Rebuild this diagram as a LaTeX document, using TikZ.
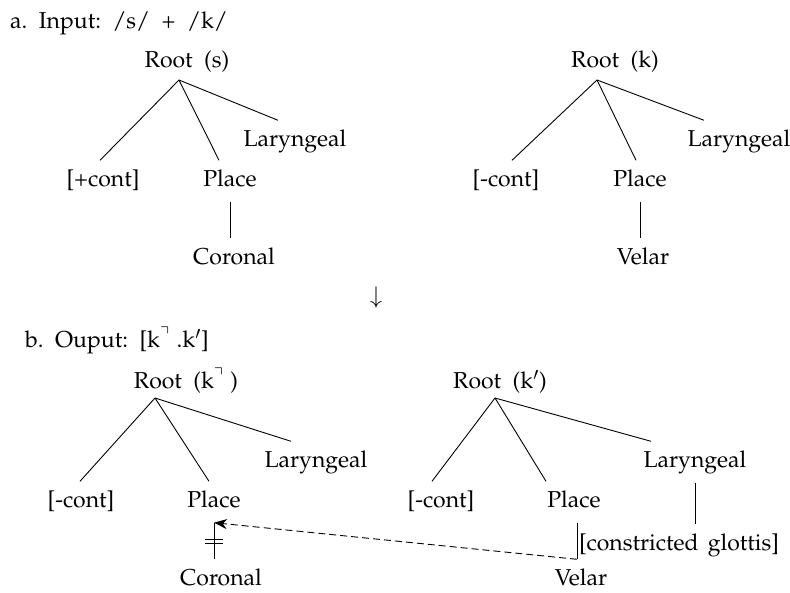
\documentclass[tikz,border=0pt]{standalone}
\usepackage[T1]{fontenc}
\usepackage{mathpazo}
\usepackage{amssymb}
\usetikzlibrary{arrows.meta,calc}
\begin{document}
\begin{tikzpicture}[x=1pt,y=-1pt,
  lbl/.style={inner xsep=0pt, inner ysep=10pt, text height=16pt, text depth=5pt, font=\fontsize{23}{27}\selectfont},
  edge/.style={line width=0.9pt},
  vline/.style={line width=0.8pt},
  dline/.style={line width=0.9pt, dash pattern=on 7pt off 4pt},
]
\useasboundingbox (0,0) rectangle (790,593);
% headers
\node[lbl, anchor=west] (ha) at (10,23) {a.\hspace{.5em}Input:\hspace{.5em}/s/\hspace{.5em}+\hspace{.5em}/k/};
\node[lbl, anchor=west] (hb) at (25,342) {b.\hspace{.5em}Ouput:\hspace{.5em}[k$^{\urcorner}$\hspace{.3em}.k$'$]};
\node[lbl] (darr) at (376,298) {$\downarrow$};

% ---- tree a-left ----
\node[lbl] (ar1) at (187,62) {Root\hspace{.5em}(s)};
\coordinate (aa1) at (179,80);
\node[lbl] (ac1) at (103,181) {[+cont]};
\node[lbl] (ap1) at (230,181) {Place};
\node[lbl] (al1) at (295,141) {Laryngeal};
\node[lbl] (aco) at (234,259) {Coronal};
\draw[edge] (aa1) -- ([xshift=-3pt]ac1.north);
\draw[edge] (aa1) -- ([xshift=-11pt]ap1.north);
\draw[edge] (aa1) -- ([xshift=-17pt]al1.north);
\draw[vline] (ap1.south) -- (ap1.south |- aco.north);

% ---- tree a-right ----
\node[lbl] (ar2) at (615,62) {Root\hspace{.5em}(k)};
\coordinate (aa2) at (597,80);
\node[lbl] (ac2) at (506,181) {[-cont]};
\node[lbl] (ap2) at (640,181) {Place};
\node[lbl] (al2) at (739,141) {Laryngeal};
\node[lbl] (ave) at (643,259) {Velar};
\draw[edge] (aa2) -- ([xshift=6pt]ac2.north);
\draw[edge] (aa2) -- ([xshift=-4pt]ap2.north);
\draw[edge] (aa2) -- ([xshift=-35pt]al2.north);
\draw[vline] (ap2.south) -- (ap2.south |- ave.north);

% ---- tree b-left ----
\node[lbl] (br1) at (186,383) {Root\hspace{.5em}(k$^{\urcorner}$\hspace{.3em})};
\coordinate (ba1) at (155,398);
\node[lbl] (bc1) at (81,502) {[-cont]};
\node[lbl] (bp1) at (214,502) {Place};
\node[lbl] (bl1) at (316,462) {Laryngeal};
\node[lbl] (bco) at (221,580) {Coronal};
\draw[edge] (ba1) -- ([xshift=-1pt]bc1.north);
\draw[edge] (ba1) -- ([xshift=-5pt]bp1.north);
\draw[edge] (ba1) -- ([xshift=-25pt]bl1.north);
\draw[vline] (bp1.south) -- (bp1.south |- bco.north) coordinate[pos=.5] (dl);
\draw[line width=1pt] ([xshift=-9pt,yshift=2pt]dl) -- ([xshift=9pt,yshift=2pt]dl);
\draw[line width=1pt] ([xshift=-9pt,yshift=-2pt]dl) -- ([xshift=9pt,yshift=-2pt]dl);

% ---- tree b-right ----
\node[lbl] (br2) at (500,383) {Root\hspace{.5em}(k$'$)};
\coordinate (ba2) at (495,398);
\node[lbl] (bc2) at (441,502) {[-cont]};
\node[lbl] (bp2) at (574,502) {Place};
\node[lbl] (bl2) at (695,462) {Laryngeal};
\node[lbl] (bcg) at (679,545) {[constricted\hspace{.4em}glottis]};
\node[lbl] (bve) at (581,580) {Velar};
\draw[edge] (ba2) -- ([xshift=-9pt]bc2.north);
\draw[edge] (ba2) -- ([xshift=-28pt]bp2.north);
\draw[edge] (ba2) -- ([xshift=-44pt]bl2.north);
\draw[vline] (bl2.south) -- (bl2.south |- bcg.north);
\draw[vline] ([xshift=3pt]bp2.south) -- ([xshift=3pt]bp2.south |- bve.north) coordinate (vb);
\draw[dline, -{Stealth[length=13pt,width=10pt]}] (vb) -- (bp1.south);
\end{tikzpicture}
\end{document}
